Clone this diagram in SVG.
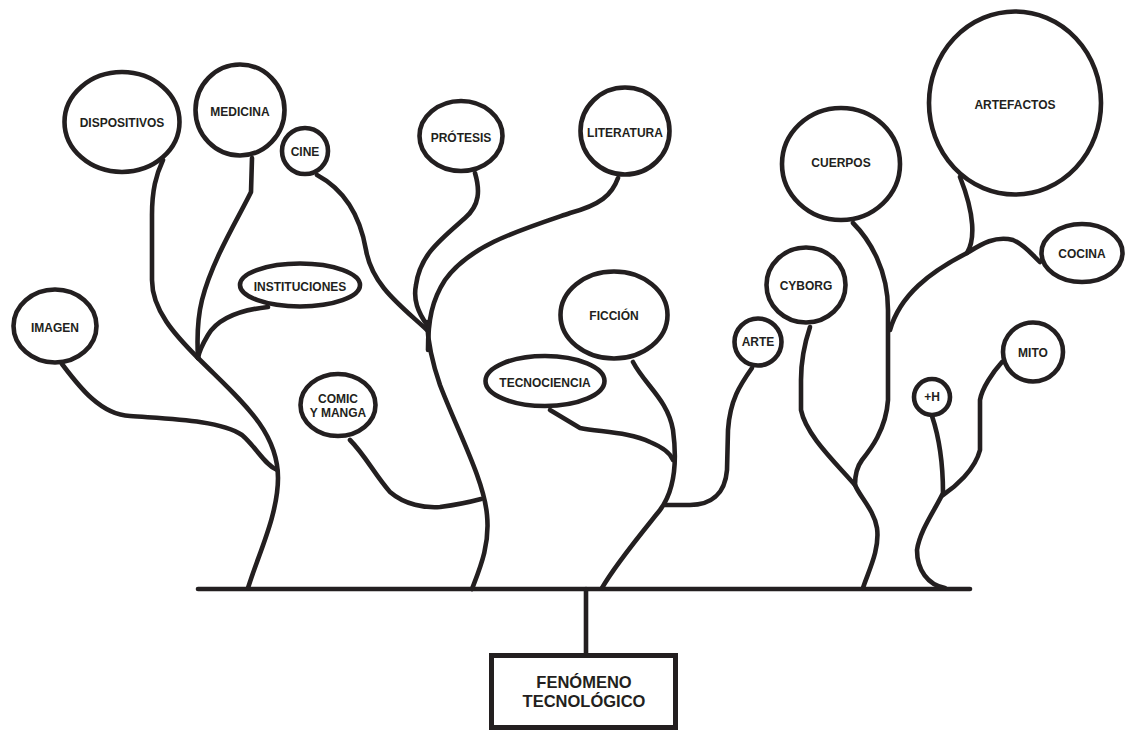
<svg xmlns="http://www.w3.org/2000/svg" width="1126" height="730" viewBox="0 0 1126 730">
  <style>
    .branch { fill: none; stroke: #231f20; stroke-width: 4.6; stroke-linecap: round; stroke-linejoin: round; }
    .bubble { fill: #ffffff; stroke: #231f20; stroke-width: 4.6; }
    .label { font-family: "Liberation Sans", Arial, sans-serif; font-size: 12px; font-weight: bold; fill: #231f20; text-anchor: middle; }
    .root-label { font-family: "Liberation Sans", Arial, sans-serif; font-size: 16.5px; font-weight: bold; fill: #231f20; text-anchor: middle; }
  </style>
  <rect width="1126" height="730" fill="#ffffff"/>

  <!-- branches of the tree -->
  <g id="connectors">
    <path class="branch" d="M198,589 H970"/>
    <path class="branch" d="M586,589 V656"/>

    <!-- left trunk -->
    <path class="branch" d="M248,588 C258,555 278,515 278,478 C278,430 240,400 198,358"/>
    <path class="branch" d="M163,160 C156,175 152,190 152,215 L152,280 C152,310 175,335 198,358"/>
    <path class="branch" d="M252,158 L251,192 C240,215 212,260 202,300 C197,320 197,340 198,358"/>
    <path class="branch" d="M268,307 C240,310 218,318 208,335 C202,345 199,352 198,358"/>
    <path class="branch" d="M62,364 C78,385 100,415 130,416 C170,419 220,420 242,435 C256,447 265,465 277,470"/>

    <!-- middle-left trunk -->
    <path class="branch" d="M472,589 C480,568 490,545 487,515 C484,480 458,432 440,385 C432,362 428,345 427,322"/>
    <path class="branch" d="M317,175 C345,190 360,215 366,250 C372,285 400,305 427,330"/>
    <path class="branch" d="M475,173 C480,190 480,205 465,218 C440,240 420,255 416,285 C413,300 418,312 427,325"/>
    <path class="branch" d="M618,178 C612,195 600,205 570,213 C520,230 470,245 445,280 C432,300 428,320 428,350"/>
    <path class="branch" d="M350,440 C365,455 375,475 390,492 C405,505 425,508 440,507 C455,505 470,502 481,499"/>

    <!-- middle-right trunk -->
    <path class="branch" d="M602,588 C615,565 640,535 660,510 C675,490 677,460 673,430 C668,400 645,385 633,362"/>
    <path class="branch" d="M550,410 L580,428 C600,432 630,432 650,442 C662,447 670,452 673,460"/>
    <path class="branch" d="M752,368 C740,385 730,400 728,430 L727,470 C725,495 710,505 690,505 L665,505"/>

    <!-- right trunk -->
    <path class="branch" d="M863,588 C868,572 880,550 877,528 C874,510 860,497 855,485"/>
    <path class="branch" d="M810,327 C804,345 801,360 801,380 L801,410 C806,435 835,462 855,485"/>
    <path class="branch" d="M853,223 C870,240 888,270 888,310 L888,400 C886,430 870,450 862,460 C856,468 855,478 855,485"/>
    <path class="branch" d="M890,330 C900,295 930,272 967,253 C975,240 975,215 960,177"/>
    <path class="branch" d="M967,253 C980,245 995,235 1013,240 C1025,245 1032,255 1040,262"/>

    <!-- far right stem -->
    <path class="branch" d="M932,416 C940,440 943,470 943,493 C935,510 920,530 917,550 C917,570 928,585 945,588"/>
    <path class="branch" d="M1002,362 C993,372 982,388 980,400 L980,450 C975,470 955,487 943,495"/>
  </g>

  <g id="dispositivos">
    <ellipse class="bubble" cx="122" cy="122" rx="57.5" ry="50"/>
    <text class="label" x="122" y="127">DISPOSITIVOS</text>
  </g>
  <g id="medicina">
    <ellipse class="bubble" cx="240" cy="110" rx="44.5" ry="45.5"/>
    <text class="label" x="240" y="116">MEDICINA</text>
  </g>
  <g id="cine">
    <ellipse class="bubble" cx="305" cy="151" rx="23" ry="23"/>
    <text class="label" x="305" y="156">CINE</text>
  </g>
  <g id="instituciones">
    <ellipse class="bubble" cx="300" cy="285" rx="60" ry="21.5"/>
    <text class="label" x="300" y="291">INSTITUCIONES</text>
  </g>
  <g id="imagen">
    <ellipse class="bubble" cx="55" cy="326" rx="41.5" ry="36.5"/>
    <text class="label" x="55" y="332">IMAGEN</text>
  </g>
  <g id="comic-y-manga">
    <ellipse class="bubble" cx="338" cy="405" rx="37.5" ry="31"/>
    <text class="label" x="338" y="403">COMIC</text>
    <text class="label" x="338" y="417">Y MANGA</text>
  </g>
  <g id="protesis">
    <ellipse class="bubble" cx="461" cy="136" rx="41.5" ry="35"/>
    <text class="label" x="461" y="142">PRÓTESIS</text>
  </g>
  <g id="literatura">
    <ellipse class="bubble" cx="625" cy="131" rx="44.5" ry="43.5"/>
    <text class="label" x="625" y="137">LITERATURA</text>
  </g>
  <g id="ficcion">
    <ellipse class="bubble" cx="614" cy="315" rx="53.5" ry="43.5"/>
    <text class="label" x="614" y="320">FICCIÓN</text>
  </g>
  <g id="tecnociencia">
    <ellipse class="bubble" cx="545" cy="381" rx="59.5" ry="25"/>
    <text class="label" x="545" y="387">TECNOCIENCIA</text>
  </g>
  <g id="arte">
    <ellipse class="bubble" cx="758" cy="342" rx="23.5" ry="23.5"/>
    <text class="label" x="758" y="346">ARTE</text>
  </g>
  <g id="artefactos">
    <ellipse class="bubble" cx="1015" cy="103" rx="86" ry="91.5"/>
    <text class="label" x="1015" y="109">ARTEFACTOS</text>
  </g>
  <g id="cuerpos">
    <ellipse class="bubble" cx="841" cy="164" rx="59" ry="56"/>
    <text class="label" x="841" y="167">CUERPOS</text>
  </g>
  <g id="cocina">
    <ellipse class="bubble" cx="1082" cy="253" rx="40.5" ry="29"/>
    <text class="label" x="1082" y="258">COCINA</text>
  </g>
  <g id="cyborg">
    <ellipse class="bubble" cx="806" cy="285" rx="39.5" ry="37.5"/>
    <text class="label" x="806" y="290">CYBORG</text>
  </g>
  <g id="mito">
    <ellipse class="bubble" cx="1033" cy="352" rx="30" ry="29.5"/>
    <text class="label" x="1033" y="357">MITO</text>
  </g>
  <g id="mas-h">
    <ellipse class="bubble" cx="932" cy="397" rx="18" ry="18"/>
    <text class="label" x="932" y="401">+H</text>
  </g>

  <g id="fenomeno-tecnologico">
    <rect x="491.5" y="655.5" width="184" height="72" fill="#ffffff" stroke="#231f20" stroke-width="5"/>
    <text class="root-label" x="584" y="688">FENÓMENO</text>
    <text class="root-label" x="584" y="707">TECNOLÓGICO</text>
  </g>
</svg>
